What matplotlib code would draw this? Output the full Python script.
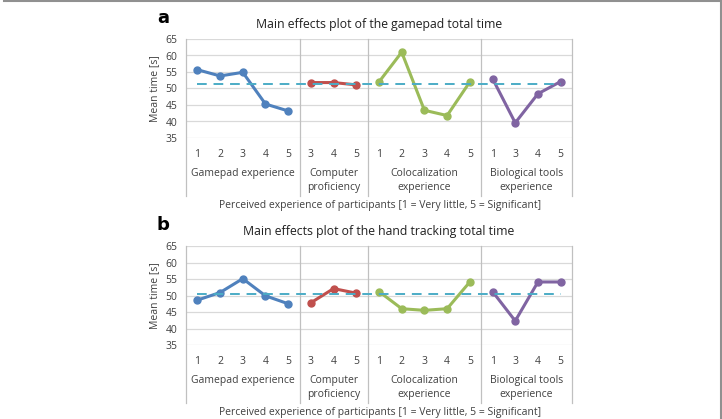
import matplotlib.pyplot as plt
from matplotlib.lines import Line2D
from matplotlib.transforms import blended_transform_factory

plt.rcParams['font.family'] = ['Open Sans', 'DejaVu Sans']

# tick labels of the 17 levels, grouped by factor
groups = ["Gamepad experience", "Computer\nproficiency",
          "Colocalization\nexperience", "Biological tools\nexperience"]
levels = [["1", "2", "3", "4", "5"], ["3", "4", "5"],
          ["1", "2", "3", "4", "5"], ["1", "3", "4", "5"]]
colors = ["#4F81BD", "#C0504D", "#9BBB59", "#8064A2"]

# panel a: gamepad total time
gamepad_vals = [[55.7, 53.8, 54.9, 45.3, 43.2],
                [51.8, 51.8, 51.1],
                [52.0, 61.0, 43.4, 41.8, 52.0],
                [53.0, 39.6, 48.4, 52.1]]
gamepad_mean = 51.3

# panel b: hand tracking total time
hand_vals = [[48.6, 50.9, 55.1, 49.9, 47.5],
             [47.8, 52.1, 50.7],
             [51.2, 46.0, 45.5, 46.0, 54.1],
             [51.2, 42.3, 54.1, 54.1]]
hand_mean = 50.4

W, H = 722, 419
fig = plt.figure(figsize=(W / 100, H / 100), dpi=100)

def px_axes(left, top, right, bottom):
    return fig.add_axes([left / W, 1 - bottom / H, (right - left) / W, (bottom - top) / H])

def panel(ax, vals, mean, title, letter, top, bottom):
    ax.set_xlim(-0.5, 16.5)
    ax.set_ylim(35, 65)
    ax.set_yticks(range(35, 70, 5))
    ax.grid(axis="y", color="#d9d9d9", lw=0.9)
    ax.set_axisbelow(True)
    for s in ax.spines.values():
        s.set_visible(False)
    ax.tick_params(length=0, labelsize=7.5, colors="#404040")
    ax.tick_params(axis="x", pad=8)
    ax.tick_params(axis="y", pad=6)

    labels = sum(levels, [])
    ax.set_xticks(range(len(labels)))
    ax.set_xticklabels(labels)

    tr = blended_transform_factory(ax.transData, ax.transAxes)
    h = bottom - top
    low = -(58 / h)
    start = 0
    seps = [-0.5]
    for g, (name, lv, c) in enumerate(zip(groups, levels, colors)):
        xs = list(range(start, start + len(lv)))
        ax.plot(xs, vals[g], color=c, lw=2.2, marker="o", ms=5, zorder=3)
        ax.text((xs[0] + xs[-1]) / 2, -30 / h, name, transform=tr, ha="center",
                va="top", fontsize=7.5, color="#404040", linespacing=1.35)
        start += len(lv)
        seps.append(start - 0.5)
    for sx in seps:
        ax.plot([sx, sx], [1, low], transform=tr, color="#c0c0c0", lw=0.9,
                clip_on=False, zorder=1)

    ax.plot([0, 16], [mean, mean], color="#4BACC6", lw=1.4, ls=(0, (5, 3.5)), zorder=4)
    ax.set_ylabel("Mean time [s]", fontsize=7.5, color="#404040", labelpad=4)
    ax.set_title(title, fontsize=8.8, color="#202020", pad=8)
    fig.text(163 / W, 1 - (top - 21) / H, letter, fontsize=13, fontweight="bold",
             family="DejaVu Sans", ha="center", va="center")
    fig.text(380 / W, 1 - (bottom + 67) / H,
             "Perceived experience of participants [1 = Very little, 5 = Significant]",
             fontsize=7.5, color="#404040", ha="center", va="center")

ax_a = px_axes(186, 39, 572, 138)
panel(ax_a, gamepad_vals, gamepad_mean, "Main effects plot of the gamepad total time", "a", 39, 138)
ax_b = px_axes(186, 246, 572, 345)
panel(ax_b, hand_vals, hand_mean, "Main effects plot of the hand tracking total time", "b", 246, 345)

# outer frame of the figure panel
fig.add_artist(Line2D([4 / W, 720.5 / W], [1 - 1.2 / H, 1 - 1.2 / H], color="#909090", lw=1.5))
fig.add_artist(Line2D([720.5 / W, 720.5 / W], [1 - 1.2 / H, 0], color="#909090", lw=1.5))

fig.savefig("out.png", dpi=100)
